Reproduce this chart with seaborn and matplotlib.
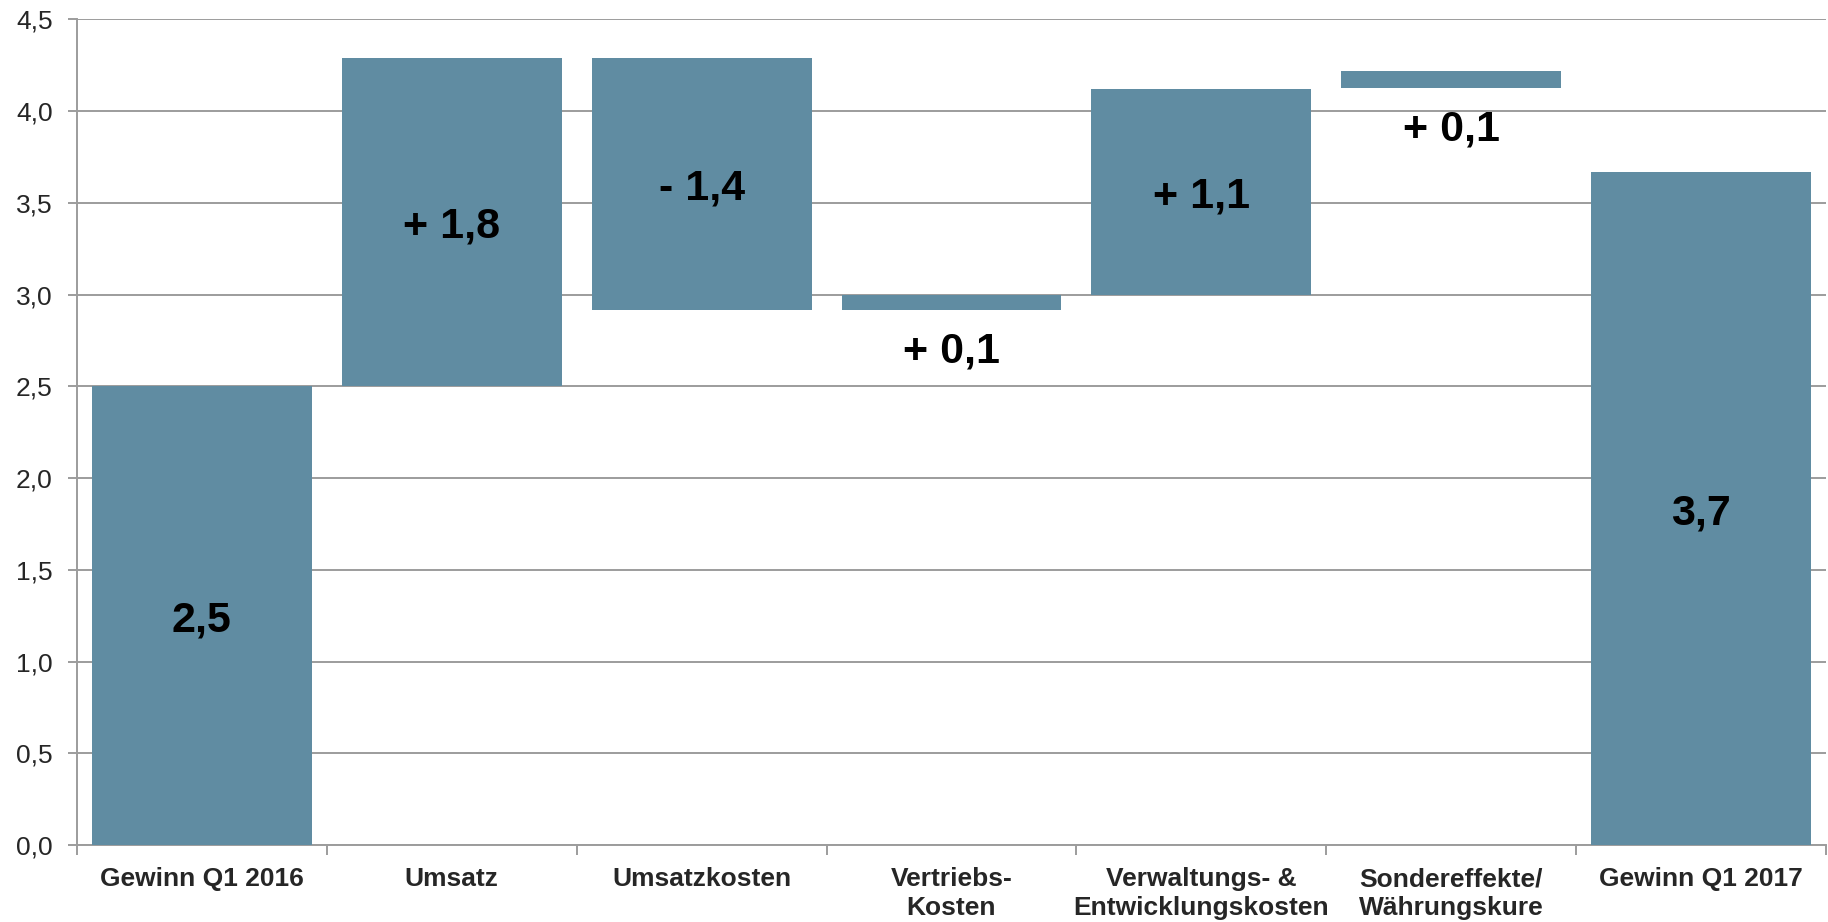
import matplotlib
matplotlib.use("Agg")
import matplotlib.pyplot as plt
import seaborn as sns
import pandas as pd
import numpy as np

categories = ["Gewinn Q1 2016", "Umsatz", "Umsatzkosten", "Vertriebs-\nKosten",
              "Verwaltungs- &\nEntwicklungskosten", "Sondereffekte/\nWährungskure",
              "Gewinn Q1 2017"]
bar_low = [0.0, 2.5, 2.915, 2.915, 3.0, 4.124, 0.0]
bar_high = [2.5, 4.287, 4.287, 3.0, 4.122, 4.218, 3.668]
value_labels = ["2,5", "+ 1,8", "- 1,4", "+ 0,1", "+ 1,1", "+ 0,1", "3,7"]
y_ticks = [0.0, 0.5, 1.0, 1.5, 2.0, 2.5, 3.0, 3.5, 4.0, 4.5]
y_tick_labels = ["0,0", "0,5", "1,0", "1,5", "2,0", "2,5", "3,0", "3,5", "4,0", "4,5"]

BAR = "#608CA2"
GRID = "#9c9c9c"

sns.set_theme(style="white")
plt.rcParams['font.family'] = ['Liberation Sans', 'DejaVu Sans']

df = pd.DataFrame({"Kategorie": categories, "low": bar_low, "high": bar_high})
df["height"] = df["high"] - df["low"]

fig = plt.figure(figsize=(18.28, 9.22), dpi=100)
ax = fig.add_axes([0.0421, 0.0835, 0.9568, 0.8955])

sns.barplot(data=df, x="Kategorie", y="height", order=categories,
            bottom=df["low"].to_numpy(), color=BAR, saturation=1, width=0.88,
            edgecolor="none", linewidth=0, ax=ax, zorder=3)

ax.set_xlim(-0.5, len(categories) - 0.5)
ax.set_ylim(0, 4.5)
ax.set_yticks(y_ticks)
ax.set_yticklabels(y_tick_labels, fontsize=19)
ax.yaxis.grid(True, color=GRID, linewidth=1.4, zorder=0)
ax.set_axisbelow(True)

ax.set_xlabel("")
ax.set_ylabel("")

# category boundary ticks
ax.set_xticks(np.arange(len(categories)))
ax.set_xticklabels(categories, fontsize=19, fontweight="bold")
for lbl in ax.get_xticklabels():
    lbl.set_linespacing(1.25)
ax.set_xticks(np.arange(len(categories) + 1) - 0.5, minor=True)
ax.tick_params(axis="x", which="major", length=0, pad=16)
ax.tick_params(axis="x", which="minor", length=7, width=1.4, color=GRID, direction="out", bottom=True)
ax.tick_params(axis="y", length=6.5, width=1.4, color=GRID, direction="out", left=True, pad=11)

for side in ["top", "right"]:
    ax.spines[side].set_visible(False)
for side in ["left", "bottom"]:
    ax.spines[side].set_color(GRID)
    ax.spines[side].set_linewidth(1.4)

for i, (lo, hi, txt) in enumerate(zip(bar_low, bar_high, value_labels)):
    if hi - lo < 0.3:
        y = lo - 0.2
    else:
        y = (lo + hi) / 2
    ax.text(i, y, txt, ha="center", va="center_baseline", fontsize=31,
            fontweight="bold", color="black", zorder=5)

fig.savefig("out.png", dpi=100)
